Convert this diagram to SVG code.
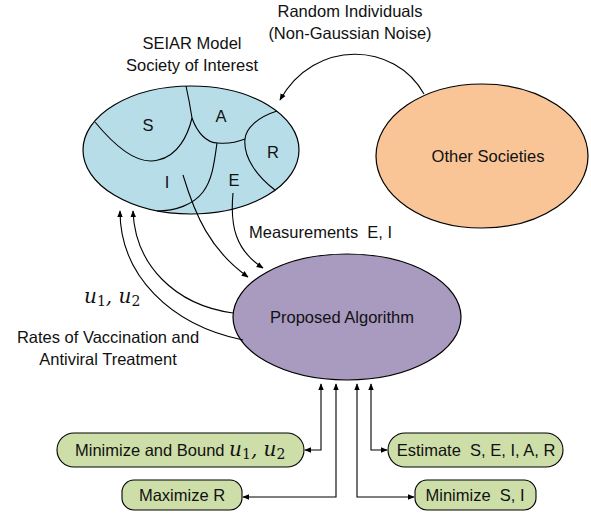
<svg xmlns="http://www.w3.org/2000/svg" width="591" height="518" viewBox="0 0 591 518">
<defs>
<marker id="ah" viewBox="0 0 10 10" refX="9" refY="5" markerWidth="7" markerHeight="7" orient="auto-start-reverse" markerUnits="userSpaceOnUse">
<path d="M0,1 L10,5 L0,9 Z" fill="#000"/>
</marker>
<style>
text{font-family:"Liberation Sans",Arial,sans-serif;font-size:16.5px;fill:#111;white-space:pre;}
.c{text-anchor:middle;}
.m{font-family:"DejaVu Serif","Liberation Serif",serif;font-style:italic;font-size:20px;}
.sub{font-family:"DejaVu Serif","Liberation Serif",serif;font-style:normal;font-size:14px;}
.ln{fill:none;stroke:#000;stroke-width:1.1;}
.box{fill:#cddea8;stroke:#000;stroke-width:1.1;}
</style>
</defs>
<rect width="591" height="518" fill="#fff"/>

<g id="society">
<ellipse cx="191" cy="150" rx="108" ry="64" fill="#b7dde8" stroke="#000" stroke-width="1.2"/>
<path class="ln" d="M95,122 C118,150 140,165 158,160 C178,156 188,135 192,118 C190,105 188,95 186,86"/>
<path class="ln" d="M192,118 C197,132 206,143 218,143 C230,144 240,141 245,139"/>
<path class="ln" d="M277,111 C258,117 246,128 245,139 C243,158 258,177 275,190"/>
<path class="ln" d="M217,143 C214,165 212,180 203,192 C193,205 175,211 157,211"/>
<text class="c" x="148" y="131">S</text>
<text class="c" x="221" y="122">A</text>
<text class="c" x="273" y="158">R</text>
<text class="c" x="167" y="188">I</text>
<text class="c" x="234" y="186">E</text>
</g>

<g id="other">
<ellipse cx="482" cy="156" rx="106" ry="72" fill="#f9c597" stroke="#000" stroke-width="1.2"/>
<text class="c" x="488" y="162">Other Societies</text>
</g>

<g id="algorithm">
<ellipse cx="347" cy="317" rx="114" ry="63" fill="#a99ac0" stroke="#000" stroke-width="1.2"/>
<text class="c" x="342" y="323">Proposed Algorithm</text>
</g>

<g id="minbound">
<rect class="box" x="57" y="433" width="247" height="34" rx="17"/>
<text x="75" y="456">Minimize and Bound <tspan class="m">u</tspan><tspan class="sub" dy="3">1</tspan><tspan class="m" dy="-3">, u</tspan><tspan class="sub" dy="3">2</tspan></text>
</g>
<g id="maxr">
<rect class="box" x="122" y="480" width="120" height="30" rx="12"/>
<text class="c" x="182" y="501">Maximize R</text>
</g>
<g id="estimate">
<rect class="box" x="388" y="433" width="175" height="34" rx="17"/>
<text class="c" x="476" y="456">Estimate  S, E, I, A, R</text>
</g>
<g id="minsi">
<rect class="box" x="415" y="480" width="121" height="30" rx="12"/>
<text class="c" x="475" y="501">Minimize  S, I</text>
</g>

<g id="labels">
<text class="c" x="350" y="17">Random Individuals</text>
<text class="c" x="350" y="39">(Non-Gaussian Noise)</text>
<text class="c" x="192" y="49">SEIAR Model</text>
<text class="c" x="192" y="71">Society of Interest</text>
<text x="249" y="238">Measurements  E, I</text>
<text x="84" y="303"><tspan class="m">u</tspan><tspan class="sub" dy="3">1</tspan><tspan class="m" dy="-3">, u</tspan><tspan class="sub" dy="3">2</tspan></text>
<text class="c" x="108" y="343">Rates of Vaccination and</text>
<text class="c" x="108" y="365">Antiviral Treatment</text>
</g>

<g id="connectors">
<path class="ln" d="M424,94 C395,42 315,38 280,100" marker-end="url(#ah)"/>
<path class="ln" d="M183,175 C195,215 210,250 248,277" marker-end="url(#ah)"/>
<path class="ln" d="M233,193 C230,225 235,250 263,268" marker-end="url(#ah)"/>
<path class="ln" d="M233,313 C175,305 135,265 133,211" marker-end="url(#ah)"/>
<path class="ln" d="M243,340 C170,325 120,275 120,211" marker-end="url(#ah)"/>
<path class="ln" d="M321,384 L321,450 L305,450" marker-start="url(#ah)" marker-end="url(#ah)"/>
<path class="ln" d="M336,384 L336,497 L243,497" marker-start="url(#ah)" marker-end="url(#ah)"/>
<path class="ln" d="M357,384 L357,497 L414,497" marker-start="url(#ah)" marker-end="url(#ah)"/>
<path class="ln" d="M371,384 L371,450 L387,450" marker-start="url(#ah)" marker-end="url(#ah)"/>
</g>
</svg>
